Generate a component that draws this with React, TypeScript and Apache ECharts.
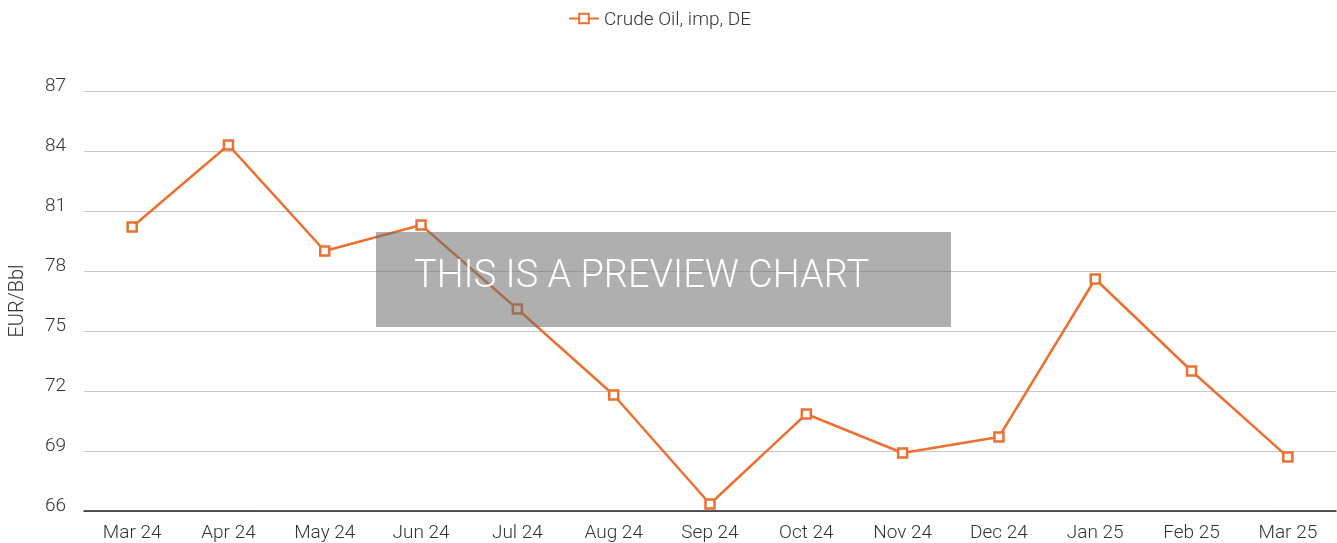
import React, { useEffect, useRef } from "react";
import * as echarts from "echarts";

const categories = ["Mar 24", "Apr 24", "May 24", "Jun 24", "Jul 24", "Aug 24", "Sep 24", "Oct 24", "Nov 24", "Dec 24", "Jan 25", "Feb 25", "Mar 25"];
const crudeOil = [80.2, 84.3, 79.0, 80.3, 76.1, 71.8, 66.35, 70.85, 68.9, 69.7, 77.6, 73.0, 68.7];
const seriesName = "Crude Oil, imp, DE";
const yAxisName = "EUR/Bbl";
const watermarkText = "THIS IS A PREVIEW CHART";

const ORANGE = "#ec7030";
const FONT = "Roboto";

export default function App() {
  const ref = useRef<HTMLDivElement>(null);
  useEffect(() => {
    if (!ref.current) return;
    const chart = echarts.init(ref.current, null, { renderer: "svg" });
    chart.setOption({
      animation: false,
      textStyle: { fontFamily: FONT },
      legend: {
        top: 4,
        left: 563,
        itemWidth: 30,
        itemHeight: 12,
        itemGap: 4,
        textStyle: { fontSize: 19, color: "#333", fontFamily: FONT, fontWeight: 300 },
        data: [seriesName],
      },
      grid: { left: 84, right: 1, top: 91, bottom: 32, containLabel: false, outerBoundsMode: "none" },
      xAxis: {
        type: "category",
        data: categories,
        boundaryGap: true,
        axisLine: { show: true, lineStyle: { color: "#222", width: 1.5 } },
        axisTick: { show: false },
        axisLabel: { fontSize: 19, color: "#333", margin: 11, fontFamily: FONT, fontWeight: 300 },
      },
      yAxis: {
        type: "value",
        min: 66,
        max: 87,
        interval: 3,
        name: yAxisName,
        nameLocation: "middle",
        nameGap: 58,
        nameTextStyle: { fontSize: 20, color: "#333", fontFamily: FONT, fontWeight: 300 },
        axisLine: { show: false },
        axisTick: { show: false },
        splitLine: { lineStyle: { color: "#c8c8c8", width: 1 } },
        axisLabel: {
          fontSize: 19,
          color: "#333",
          margin: 18,
          verticalAlign: "bottom",
          lineHeight: 14,
          fontFamily: FONT,
          fontWeight: 300,
        },
      },
      series: [
        {
          name: seriesName,
          type: "line",
          data: crudeOil,
          symbol: "rect",
          symbolSize: 9,
          showSymbol: true,
          lineStyle: { color: ORANGE, width: 2.5 },
          itemStyle: { color: "#fff", borderColor: ORANGE, borderWidth: 2.5 },
          z: 2,
        },
      ],
      graphic: [
        {
          type: "rect",
          left: 376,
          top: 232,
          shape: { width: 575, height: 95 },
          style: { fill: "rgba(110,110,110,0.55)" },
          z: 100,
        },
        {
          type: "text",
          left: 414,
          top: 255,
          style: {
            text: watermarkText,
            fill: "#fff",
            fontSize: 38,
            fontFamily: FONT,
            fontWeight: 300,
          },
          z: 101,
        },
      ],
    });
    return () => chart.dispose();
  }, []);
  return <div ref={ref} style={{ position: "fixed", left: 0, top: 0, width: 1337, height: 543 }} />;
}
